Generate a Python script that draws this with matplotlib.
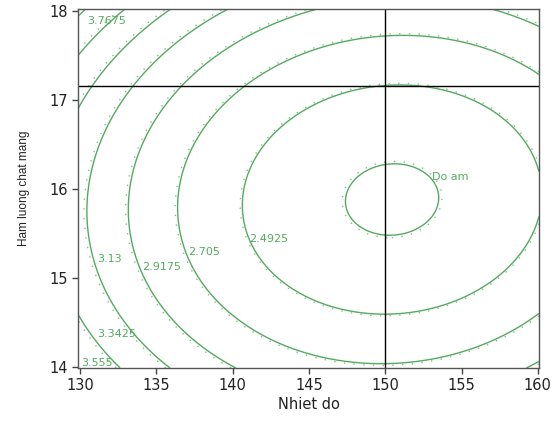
import numpy as np
import matplotlib
matplotlib.use("Agg")
import matplotlib.pyplot as plt

levels = [2.31, 2.4925, 2.705, 2.9175, 3.13, 3.3425, 3.555, 3.7675]
label_texts = ["Do am", "2.4925", "2.705", "2.9175", "3.13", "3.3425", "3.555", "3.7675"]
label_x = [153.05, 141.1, 137.1, 134.06, 131.1, 131.1, 130.1, 130.45]
label_y = [16.13, 15.44, 15.29, 15.12, 15.21, 14.37, 14.05, 17.88]

# Quadratic response-surface model coefficients (estimated from the contours)
c0 = 2.2904
a_xx = 0.002105
b_yy = 0.1225
e_xy = -0.0016
x_center = 150.45
y_center = 15.88
# the faint dotted companion contours sit slightly outside the solid ones
dot_expand = 1.008
dot_shift = 0.0025

# Crosshair (flag) position
cross_x = 150.0
cross_y = 17.15

x_ticks = [130, 135, 140, 145, 150, 155, 160]
y_ticks = [14, 15, 16, 17, 18]
x_lim = (129.87, 160.07)
y_lim = (13.99, 18.02)

green = "#55aa5f"

fig = plt.figure(figsize=(5.55, 4.21), dpi=100)
ax = fig.add_axes([0.1405, 0.126, 0.971 - 0.1405, 0.979 - 0.126])

gx = np.linspace(x_lim[0], x_lim[1], 500)
gy = np.linspace(y_lim[0], y_lim[1], 500)
X, Y = np.meshgrid(gx, gy)
U = X - x_center
V = Y - y_center
Q = a_xx * U**2 + b_yy * V**2 + e_xy * U * V
Z = c0 + Q
Z_dot = c0 + Q / dot_expand**2 - dot_shift

ax.contour(X, Y, Z, levels=levels, colors=green, linewidths=1.0)
ax.contour(X, Y, Z_dot, levels=levels, colors=green,
           linewidths=1.0, linestyles=[(0, (1, 6))], alpha=0.75)

for t, lx, ly in zip(label_texts, label_x, label_y):
    ax.text(lx, ly, t, color=green, fontsize=8, ha="left", va="center",
            family="DejaVu Sans")

ax.axvline(cross_x, color="black", lw=1.0)
ax.axhline(cross_y, color="black", lw=1.0)

ax.set_xlim(*x_lim)
ax.set_ylim(*y_lim)
ax.set_xticks(x_ticks)
ax.set_yticks(y_ticks)
ax.tick_params(direction="out", length=4, width=1, color="#444444",
               labelsize=10.5, pad=3)
for lab in ax.get_xticklabels() + ax.get_yticklabels():
    lab.set_family("DejaVu Sans")
    lab.set_color("#222222")
for s in ax.spines.values():
    s.set_color("#555555")
    s.set_linewidth(1.0)

ax.set_xlabel("Nhiet do", fontsize=10.5, family="DejaVu Sans", color="#222222", labelpad=3)
ax.set_ylabel("Ham luong chat mang", fontsize=8.5, family="Liberation Sans",
              color="#222222", labelpad=14)

fig.savefig("out.png", dpi=100)
